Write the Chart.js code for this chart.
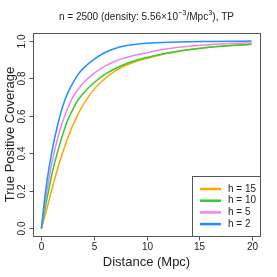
<!DOCTYPE html>
<html>
<head>
<style>
body { margin: 0; background: #fff; }
</style>
</head>
<body>
<canvas id="chart" width="277" height="277"></canvas>
<script src="https://cdn.jsdelivr.net/npm/chart.js@4.4.0/dist/chart.umd.min.js"></script>
<script>
var distance = [0, 0.25, 0.5, 0.75, 1, 1.5, 2, 2.5, 3, 3.5, 4, 5, 6, 7, 8, 9, 10, 12, 14, 16, 18, 20];
var coverH15 = [0, 0.05, 0.10, 0.155, 0.21, 0.31, 0.40, 0.48, 0.55, 0.61, 0.66, 0.74, 0.795, 0.837, 0.867, 0.888, 0.904, 0.932, 0.951, 0.964, 0.973, 0.98];
var coverH10 = [0, 0.075, 0.15, 0.22, 0.29, 0.40, 0.495, 0.575, 0.635, 0.685, 0.72, 0.775, 0.818, 0.85, 0.875, 0.895, 0.91, 0.934, 0.951, 0.964, 0.973, 0.98];
var coverH5 = [0, 0.10, 0.19, 0.275, 0.35, 0.47, 0.565, 0.64, 0.70, 0.74, 0.775, 0.825, 0.862, 0.89, 0.908, 0.923, 0.935, 0.956, 0.969, 0.978, 0.984, 0.988];
var coverH2 = [0, 0.13, 0.24, 0.33, 0.41, 0.54, 0.645, 0.72, 0.775, 0.82, 0.853, 0.90, 0.935, 0.958, 0.972, 0.98, 0.985, 0.991, 0.994, 0.995, 0.996, 0.997];

var seriesLabels = ['h = 15', 'h = 10', 'h = 5', 'h = 2'];
var seriesColors = ['#FFA500', '#32CD32', '#EE82EE', '#1E90FF'];
var xTicks = [0, 5, 10, 15, 20];
var yTicks = [0, 0.2, 0.4, 0.6, 0.8, 1.0];
var yTickLabels = ['0.0', '0.2', '0.4', '0.6', '0.8', '1.0'];

var FONT = '"Liberation Sans", Arial, sans-serif';

function toPoints(ys) {
  return distance.map(function(d, i) { return {x: d, y: ys[i]}; });
}

var allSeries = [coverH15, coverH10, coverH5, coverH2];
// chart.js paints dataset 0 last, so reverse to keep h = 2 on top like R
var datasets = [];
for (var i = allSeries.length - 1; i >= 0; i--) {
  datasets.push({
    label: seriesLabels[i],
    data: toPoints(allSeries[i]),
    borderColor: seriesColors[i],
    borderWidth: 1.5,
    pointRadius: 0,
    fill: false,
    cubicInterpolationMode: 'monotone'
  });
}

// R style frame, axes, titles and legend
var rFrame = {
  id: 'rFrame',
  afterDraw: function(chart) {
    var ctx = chart.ctx;
    var a = chart.chartArea;
    var xs = chart.scales.x, ys = chart.scales.y;
    ctx.save();
    ctx.strokeStyle = '#555';
    ctx.lineWidth = 1;
    ctx.strokeRect(Math.round(a.left) + 0.5, Math.round(a.top) + 0.5,
      Math.round(a.right - a.left), Math.round(a.bottom - a.top));

    // x axis
    ctx.fillStyle = '#222';
    ctx.font = '10px ' + FONT;
    ctx.textAlign = 'center';
    ctx.textBaseline = 'middle';
    xTicks.forEach(function(t) {
      var px = Math.round(xs.getPixelForValue(t)) + 0.5;
      ctx.beginPath();
      ctx.moveTo(px, Math.round(a.bottom) + 0.5);
      ctx.lineTo(px, Math.round(a.bottom) + 4.5);
      ctx.stroke();
      ctx.fillText(String(t), px, a.bottom + 11);
    });

    // y axis, labels turned like R's las = 0
    yTicks.forEach(function(t, i) {
      var py = Math.round(ys.getPixelForValue(t)) + 0.5;
      ctx.beginPath();
      ctx.moveTo(Math.round(a.left) + 0.5, py);
      ctx.lineTo(Math.round(a.left) - 3.5, py);
      ctx.stroke();
      ctx.save();
      ctx.translate(a.left - 11, py);
      ctx.rotate(-Math.PI / 2);
      ctx.fillText(yTickLabels[i], 0, 0);
      ctx.restore();
    });

    // axis titles
    ctx.font = '13px ' + FONT;
    ctx.fillText('Distance (Mpc)', (a.left + a.right) / 2, a.bottom + 26);
    ctx.save();
    ctx.translate(10, (a.top + a.bottom) / 2);
    ctx.rotate(-Math.PI / 2);
    ctx.fillText('True Positive Coverage', 0, 0);
    ctx.restore();

    // main title with superscripts
    var parts = [
      ['n = 2500 (density: 5.56\u00d710', false],
      ['\u22123', true],
      ['/Mpc', false],
      ['3', true],
      ['), TP', false]
    ];
    var big = '10px ' + FONT, small = '7.5px ' + FONT;
    var total = 0;
    parts.forEach(function(p) {
      ctx.font = p[1] ? small : big;
      total += ctx.measureText(p[0]).width;
    });
    var tx = (a.left + a.right) / 2 - total / 2;
    ctx.textAlign = 'left';
    parts.forEach(function(p) {
      ctx.font = p[1] ? small : big;
      ctx.fillText(p[0], tx, p[1] ? 13 : 17);
      tx += ctx.measureText(p[0]).width;
    });

    // legend box in the bottom right corner
    var lx0 = 192, ly0 = Math.round(a.bottom) - 60;
    ctx.fillStyle = '#fff';
    ctx.fillRect(lx0 + 0.5, ly0 + 0.5, Math.round(a.right) - lx0, Math.round(a.bottom) - ly0);
    ctx.strokeStyle = '#555';
    ctx.strokeRect(lx0 + 0.5, ly0 + 0.5, Math.round(a.right) - lx0, Math.round(a.bottom) - ly0);
    ctx.font = '10px ' + FONT;
    ctx.textBaseline = 'middle';
    seriesLabels.forEach(function(lab, i) {
      var yy = ly0 + 13 + i * 11.7;
      ctx.strokeStyle = seriesColors[i];
      ctx.lineWidth = 2.5;
      ctx.beginPath();
      ctx.moveTo(lx0 + 8, yy);
      ctx.lineTo(lx0 + 29, yy);
      ctx.stroke();
      ctx.fillStyle = '#222';
      ctx.fillText(lab, lx0 + 36, yy);
    });
    ctx.restore();
  }
};

new Chart(document.getElementById('chart'), {
  type: 'line',
  data: { datasets: datasets },
  options: {
    responsive: false,
    animation: false,
    layout: { padding: { left: 33, right: 17, top: 33, bottom: 41 } },
    plugins: { legend: { display: false }, tooltip: { enabled: false } },
    scales: {
      x: { type: 'linear', min: -0.8, max: 20.8, display: false },
      y: { type: 'linear', min: -0.04, max: 1.04, display: false }
    }
  },
  plugins: [rFrame]
});
</script>
</body>
</html>
